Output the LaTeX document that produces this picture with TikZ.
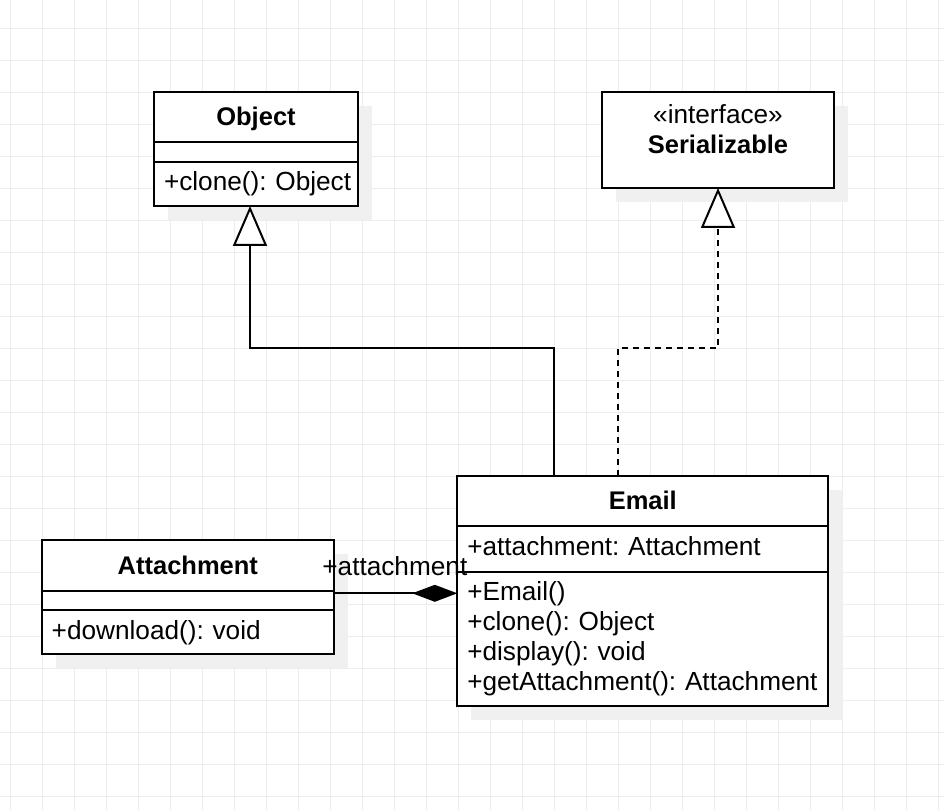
\documentclass[tikz,border=0pt]{standalone}
\usepackage{fontspec}
\setmainfont{Liberation Sans}
\usetikzlibrary{positioning,arrows.meta,shadows}
\tikzset{
  gridline/.style={draw=black!7, line width=1pt},
  umlbox/.style={draw, line width=2pt, fill=white, outer sep=0pt, inner xsep=10pt, inner ysep=0pt,
    general shadow={fill=black!6, shadow xshift=14pt, shadow yshift=-14pt}},
  classhead/.style={umlbox, minimum height=50pt, text height=19pt, text depth=1pt, font=\fontsize{25.5}{30}\selectfont\bfseries},
  members/.style={umlbox, align=left, text height=18.5pt, text depth=4.5pt},
  memberlist/.style={umlbox, align=left},
  inherit/.style={line width=2pt, -{Triangle[open, length=40pt, width=34pt, fill=white]}},
  realize/.style={inherit, dash pattern=on 6pt off 5pt},
  compose/.style={line width=2pt, -{Diamond[length=45pt, width=17pt]}},
}
\begin{document}
\begin{tikzpicture}[x=1pt, y=-1pt, font=\fontsize{26.2}{30}\selectfont\frenchspacing]
  \useasboundingbox (0,0) rectangle (944,810);
  % background grid
  \foreach \gx in {0,...,29}
    \draw[gridline] (10.7+32*\gx,0) -- ++(0,810);
  \foreach \gy in {0,...,24}
    \draw[gridline] (0,28.3+32*\gy) -- ++(944,0);

  % Object
  \node[classhead, minimum width=204, anchor=north west] (objhead) at (154,92) {Object};
  \node[umlbox, minimum width=204, minimum height=20, below=0pt of objhead] (objattrs) {};
  \node[members, text width=184, minimum height=44, below=0pt of objattrs] (objops) {\mbox{+clone(): Object}};

  % Serializable
  \node[umlbox, minimum width=232, minimum height=96, anchor=north west] (serial) at (602,92) {};
  \node[align=center, anchor=north, inner sep=0pt] (serialname) at ([yshift=-12pt]serial.north)
    {«interface»\\\textbf{\fontsize{25.5}{30}\selectfont Serializable}};

  % Attachment
  \node[classhead, minimum width=292.3, minimum height=50.7, anchor=north west] (attachhead) at (41.7,540) {Attachment};
  \node[umlbox, minimum width=292.3, minimum height=19.3, below=0pt of attachhead] (attachattrs) {};
  \node[members, text width=272.3, minimum height=44, below=0pt of attachattrs] (attachops) {\mbox{+download(): void}};

  % Email
  \node[classhead, minimum width=371, anchor=north west] (emailhead) at (457.3,475.7) {Email};
  \node[members, text width=351, minimum height=46, below=0pt of emailhead] (emailattrs) {\mbox{+attachment: Attachment}};
  \node[memberlist, text width=351, minimum height=134.3, below=0pt of emailattrs] (emailops)
    {\mbox{+Email()}\\\mbox{+clone(): Object}\\\mbox{+display(): void}\\\mbox{+getAttachment(): Attachment}};

  % relations
  \draw[inherit] ([xshift=-88.8pt]emailhead.north) -- ++(0,-127.7) -| ([xshift=-6pt]objops.south);
  \draw[realize] ([xshift=-24.8pt]emailhead.north) -- ++(0,-127.7) -| (serial.south);
  \coordinate (partend) at ([yshift=-2.6pt]attachhead.south east);
  \draw[compose] (partend) -- (partend -| emailops.west)
    node[anchor=base east, xshift=11pt, yshift=18pt, inner sep=0pt] (partrole) {+attachment};
\end{tikzpicture}
\end{document}
